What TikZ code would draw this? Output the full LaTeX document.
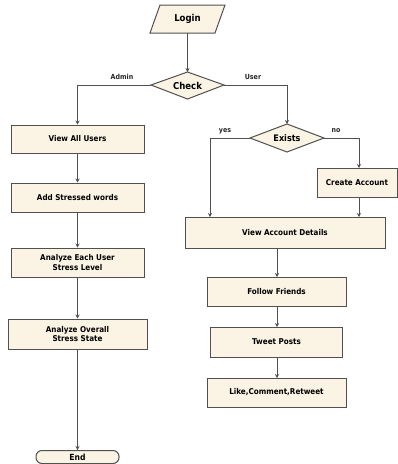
\documentclass[tikz,border=0pt]{standalone}
\usepackage{fontspec}
\setmainfont{DejaVu Sans Condensed}
\usetikzlibrary{shapes.geometric,arrows.meta}
\definecolor{cream}{HTML}{FBF3E3}
\definecolor{edge}{HTML}{505050}
\tikzset{
  box/.style={draw=edge,fill=cream,line width=1pt,inner sep=0pt,align=center,font=\bfseries\fontsize{8}{9.5}\selectfont},
  conn/.style={draw=edge,line width=1pt,-{Stealth[length=4pt,width=4pt]}},
  lbl/.style={font=\bfseries\fontsize{7}{8}\selectfont,text=black!85}
}
\begin{document}
\begin{tikzpicture}[x=1pt,y=-1pt]
\useasboundingbox (0,0) rectangle (398,464);
% Login parallelogram
\draw[draw=edge,fill=cream,line width=1pt] (160,5) -- (225,5) -- (215,33) -- (150,33) -- cycle;
\node[font=\bfseries\fontsize{9.5}{10}\selectfont] (login) at (187.5,19) {Login};
% Check diamond
\draw[draw=edge,fill=cream,line width=1pt] (151,85) -- (187.5,72) -- (224,85) -- (187.5,99) -- cycle;
\node[font=\bfseries\fontsize{9.5}{10}\selectfont] (check) at (187.5,85.5) {Check};
\coordinate (loginb) at (187.5,33);
\coordinate (checkt) at (187.5,72);
\coordinate (checkl) at (151,85);
\coordinate (checkr) at (224,85);
% Left column
\node[box,minimum width=133pt,minimum height=28pt] (vau) at (77.5,139) {View All Users};
\node[box,minimum width=133pt,minimum height=29pt] (asw) at (77.5,197.5) {Add Stressed words};
\node[box,minimum width=133pt,minimum height=29pt] (aeu) at (77.5,262.5) {Analyze Each User\\Stress Level};
\node[box,minimum width=139pt,minimum height=30pt] (aos) at (77.5,334) {Analyze Overall\\Stress State};
\node[draw=edge,fill=cream,line width=1pt,rounded corners=6pt,minimum width=83pt,minimum height=13pt,inner sep=0pt,font=\bfseries\fontsize{8.5}{9}\selectfont] (end) at (77.5,457) {End};
% Exists diamond
\draw[draw=edge,fill=cream,line width=1pt] (250,138) -- (287,124) -- (324,138) -- (287,152) -- cycle;
\node[font=\bfseries\fontsize{9}{10}\selectfont] (exists) at (287,138.5) {Exists};
\coordinate (exl) at (250,138);
\coordinate (exr) at (324,138);
\coordinate (ext) at (287,124);
\coordinate (yesend) at (210,217);
\coordinate (noend) at (359,168);
\coordinate (cab) at (359,197);
\coordinate (vadin) at (359,217);
\coordinate (vadb) at (277,248);
\coordinate (fft) at (277,277);
\coordinate (ffb) at (277,306);
\coordinate (tpt) at (277,327);
\coordinate (tpb) at (277,357);
\coordinate (lcrt) at (277,378);
% Right column
\node[box,minimum width=80pt,minimum height=29pt] (ca) at (357,182.5) {Create Account};
\node[box,minimum width=200pt,minimum height=31pt] (vad) at (285,232.5) {View Account Details};
\node[box,minimum width=139pt,minimum height=29pt] (ff) at (276.5,291.5) {Follow Friends};
\node[box,minimum width=132pt,minimum height=30pt] (tp) at (276.5,342) {Tweet Posts};
\node[box,minimum width=139pt,minimum height=29pt] (lcr) at (276.5,392.5) {Like,Comment,Retweet};
% connectors
\draw[conn] (loginb) -- (checkt);
\draw[conn] (checkl) -| (vau.north);
\draw[conn] (checkr) -| (ext);
\draw[conn] (vau) -- (asw);
\draw[conn] (asw) -- (aeu);
\draw[conn] (aeu) -- (aos);
\draw[conn] (aos) -- (end);
\draw[conn] (exl) -| (yesend);
\draw[conn] (exr) -| (noend);
\draw[conn] (cab) -- (vadin);
\draw[conn] (vadb) -- (fft);
\draw[conn] (ffb) -- (tpt);
\draw[conn] (tpb) -- (lcrt);
% labels
\node[lbl] (ladmin) at (122,77) {Admin};
\node[lbl] (luser) at (253,77) {User};
\node[lbl] (lyes) at (225,131) {yes};
\node[lbl] (lno) at (336,131) {no};
\end{tikzpicture}
\end{document}
